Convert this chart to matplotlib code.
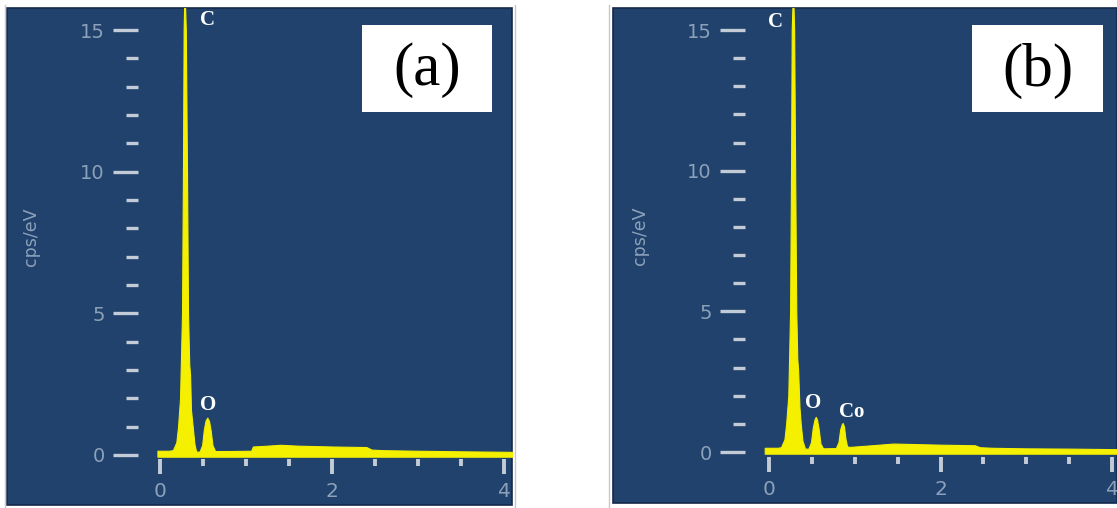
import matplotlib
matplotlib.use("Agg")
import matplotlib.pyplot as plt
from matplotlib.patches import Rectangle
from matplotlib.lines import Line2D
from matplotlib.ticker import MultipleLocator

# EDS spectra: energy (keV) vs intensity (cps/eV)
energy_a = [-0.03, 0.10, 0.15, 0.19, 0.21, 0.233, 0.256, 0.267, 0.275, 0.285,
            0.30, 0.314, 0.326, 0.34, 0.35, 0.36, 0.38, 0.40, 0.42, 0.46,
            0.49, 0.51, 0.53, 0.55, 0.57, 0.59, 0.61, 0.64, 0.80, 1.06,
            1.08, 1.20, 1.40, 1.60, 2.00, 2.40, 2.46, 2.60, 3.00, 3.50, 4.10]
counts_a = [0.15, 0.15, 0.17, 0.45, 1.0, 2.0, 5.0, 10.0, 15.0, 16.5,
            15.0, 10.0, 5.0, 3.2, 2.8, 1.6, 1.0, 0.4, 0.12, 0.12,
            0.35, 0.9, 1.22, 1.32, 1.2, 0.85, 0.35, 0.14, 0.14, 0.15,
            0.30, 0.32, 0.36, 0.33, 0.30, 0.28, 0.19, 0.17, 0.15, 0.13, 0.11]

energy_b = [-0.05, 0.10, 0.14, 0.18, 0.20, 0.225, 0.246, 0.257, 0.265, 0.28,
            0.293, 0.305, 0.318, 0.33, 0.34, 0.355, 0.37, 0.39, 0.42, 0.46,
            0.49, 0.51, 0.53, 0.545, 0.56, 0.58, 0.60, 0.63, 0.78, 0.81,
            0.83, 0.85, 0.86, 0.875, 0.89, 0.91, 0.94, 1.20, 1.45, 2.00,
            2.40, 2.46, 2.60, 3.00, 3.50, 4.10]
counts_b = [0.15, 0.15, 0.17, 0.45, 1.0, 2.0, 5.0, 10.0, 15.0, 16.5,
            15.0, 10.0, 5.0, 3.3, 2.9, 1.6, 1.0, 0.4, 0.12, 0.12,
            0.35, 0.85, 1.15, 1.25, 1.15, 0.8, 0.3, 0.13, 0.14, 0.35,
            0.8, 1.0, 1.03, 0.9, 0.5, 0.2, 0.18, 0.24, 0.30, 0.26,
            0.24, 0.17, 0.15, 0.13, 0.12, 0.10]

peak_labels_a = [("C", 0.55, 15.35), ("O", 0.56, 1.76)]
peak_labels_b = [("C", 0.07, 15.30), ("O", 0.52, 1.74), ("Co", 0.96, 1.42)]

W, H = 1117, 508
BG = "#20426d"
TICK = "#c3cbd6"
LABEL = "#8ca1b9"
YELLOW = "#f4f000"

fig = plt.figure(figsize=(W / 100, H / 100), dpi=100)
fig.patch.set_facecolor("white")


def px_rect(l, t, r, b):
    return [l / W, 1 - b / H, (r - l) / W, (b - t) / H]


def panel(energy, counts, labels, tag, frame, origin, scale, ax_lb, ylab_xy, box):
    fl, ft, fr, fb = frame
    fig.add_artist(Rectangle((fl / W, 1 - fb / H), (fr - fl) / W, (fb - ft) / H,
                             transform=fig.transFigure, facecolor=BG,
                             edgecolor="#15294a", lw=1.2, zorder=0))
    ox, oy = origin
    sx, sy = scale
    al, ab = ax_lb
    ax = fig.add_axes(px_rect(al, ft, fr, ab))
    ax.set_facecolor("none")
    ax.set_xlim((al - ox) / sx, (fr - ox) / sx)
    ax.set_ylim((oy - ab) / sy, (oy - ft) / sy)
    for s in ax.spines.values():
        s.set_visible(False)

    ax.fill_between(energy, -0.06, counts, color=YELLOW, lw=0.8, zorder=2)

    ax.set_xticks([0, 2, 4])
    ax.xaxis.set_minor_locator(MultipleLocator(0.5))
    ax.set_yticks([0, 5, 10, 15])
    ax.yaxis.set_minor_locator(MultipleLocator(1))
    ax.tick_params(axis="y", which="major", length=18, width=2.4, color=TICK,
                   labelcolor=LABEL, labelsize=14, pad=6)
    ax.tick_params(axis="y", which="minor", length=9, width=2.4, color=TICK)
    ax.tick_params(axis="x", which="major", length=10.5, width=2.8, color=TICK,
                   labelcolor=LABEL, labelsize=14.5, pad=6)
    ax.tick_params(axis="x", which="minor", length=5, width=2.8, color=TICK)
    for lbl in ax.get_xticklabels() + ax.get_yticklabels():
        lbl.set_fontfamily("DejaVu Sans")

    for name, x, y in labels:
        ax.text(x, y, name, color="white", fontsize=15, fontweight="bold",
                family="Liberation Serif", ha="center", va="center", zorder=3)

    fig.text(ylab_xy[0] / W, 1 - ylab_xy[1] / H, "cps/eV", rotation=90,
             color=LABEL, fontsize=12.5, family="DejaVu Sans",
             ha="center", va="center")

    bl, bt, br, bb = box
    fig.add_artist(Rectangle((bl / W, 1 - bb / H), (br - bl) / W, (bb - bt) / H,
                             transform=fig.transFigure, facecolor="white",
                             edgecolor="none", zorder=4))
    fig.text((bl + br) / 2 / W, 1 - ((bt + bb) / 2 + 2) / H, tag, fontsize=44,
             family="Liberation Serif", color="black", ha="center", va="center",
             zorder=5)
    return ax


panel(energy_a, counts_a, peak_labels_a, "(a)",
      frame=(7, 8, 512, 505), origin=(160, 455), scale=(86.0, 28.33),
      ax_lb=(138, 459), ylab_xy=(31, 237), box=(362, 25, 492, 112))
panel(energy_b, counts_b, peak_labels_b, "(b)",
      frame=(613, 8, 1117, 503), origin=(769, 452), scale=(85.75, 28.13),
      ax_lb=(745, 457), ylab_xy=(640, 236), box=(972, 25, 1103, 112))

# thin grey borders around the panels
for x in (5, 515, 609):
    fig.add_artist(Line2D([x / W, x / W], [0, 1 - 5 / H],
                          transform=fig.transFigure, color="#c8c8c8", lw=1))

fig.savefig("out.png", dpi=100, facecolor="white")
